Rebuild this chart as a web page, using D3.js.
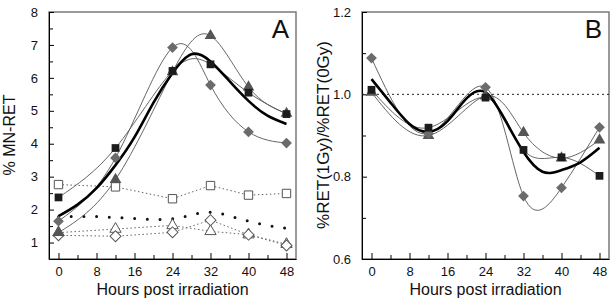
<!DOCTYPE html>
<html>
<head>
<meta charset="utf-8">
<script src="https://cdn.jsdelivr.net/npm/d3@7"></script>
<style>
  body { margin: 0; background: #fff; }
  text { font-family: "Liberation Sans", Arial, sans-serif; fill: #111; }
</style>
</head>
<body>
<script>
// sampling times
const hours = [0, 12, 24, 32, 40, 48]
const fitHours = [0, 4, 8, 12, 16, 20, 24, 28, 32, 36, 40, 44, 48]

// panel A : % MN-RET, 1 Gy (filled) and 0 Gy (open)
const aSquares = [2.37, 3.87, 6.21, 6.41, 5.55, 4.90]
const aTriangles = [1.30, 2.91, 6.18, 7.28, 5.72, 4.92]
const aDiamonds = [1.65, 3.57, 6.92, 5.78, 4.36, 4.02]
const aMeanFit = [1.80, 2.15, 2.65, 3.35, 4.20, 5.25, 6.15, 6.72, 6.50, 5.90, 5.30, 4.85, 4.60]
const aOpenSquares = [2.76, 2.69, 2.33, 2.73, 2.44, 2.49]
const aOpenTriangles = [1.30, 1.41, 1.52, 1.34, 1.24, 0.95]
const aOpenDiamonds = [1.22, 1.19, 1.31, 1.68, 1.24, 0.91]
const aControlFit = [1.78, 1.79, 1.79, 1.76, 1.73, 1.70, 1.72, 1.84, 1.92, 1.81, 1.65, 1.52, 1.43]

// panel B : ratio 1 Gy / 0 Gy
const bSquares = [1.011, 0.919, 0.992, 0.865, 0.847, 0.802]
const bTriangles = [1.005, 0.900, 0.996, 0.907, 0.845, 0.889]
const bDiamonds = [1.088, 0.905, 1.017, 0.753, 0.773, 0.920]
const bMeanFit = [1.037, 0.980, 0.928, 0.909, 0.935, 0.990, 1.005, 0.940, 0.860, 0.812, 0.816, 0.835, 0.870]

const xTicks = [0, 8, 16, 24, 32, 40, 48]
const xMinor = [4, 12, 20, 28, 36, 44]
const aYTicks = [1, 2, 3, 4, 5, 6, 7, 8]
const aYMinor = [1.5, 2.5, 3.5, 4.5, 5.5, 6.5, 7.5]
const bYTicks = [0.6, 0.8, 1.0, 1.2]
const bYMinor = [0.7, 0.9, 1.1]

let svg = d3.select("body").append("svg")
    .attr("width", 612)
    .attr("height", 301)

let zip = (xs, ys) => xs.map((x, i) => [x, ys[i]])

function drawPanel(p) {
    let x = d3.scaleLinear().domain([-2, 50]).range([p.left, p.right])
    let y = d3.scaleLinear().domain(p.yDomain).range([259, 12])
    let g = svg.append("g")

    // frame (top/right in grey)
    g.append("rect")
        .attr("x", p.left).attr("y", 12)
        .attr("width", p.right - p.left).attr("height", 247)
        .attr("fill", "none").attr("stroke", "#7a7a7a").attr("stroke-width", 1.5)

    // x axis
    let xa = g.append("g").attr("transform", "translate(0,259)")
        .call(d3.axisBottom(x).tickValues(xTicks).tickSizeInner(-6).tickSizeOuter(0).tickPadding(8))
    xa.selectAll("text").style("font-size", "13px")
    g.append("g").attr("transform", "translate(0,259)")
        .call(d3.axisBottom(x).tickValues(xMinor).tickSize(-4).tickFormat(""))
        .select(".domain").remove()

    // y axis
    let ya = g.append("g").attr("transform", `translate(${p.left},0)`)
        .call(d3.axisLeft(y).tickValues(p.yTicks).tickSizeInner(-5).tickSizeOuter(0).tickPadding(11).tickFormat(p.fmt))
    ya.selectAll("text").style("font-size", "13px")
    g.append("g").attr("transform", `translate(${p.left},0)`)
        .call(d3.axisLeft(y).tickValues(p.yMinor).tickSize(-4).tickFormat(""))
        .select(".domain").remove()
    g.selectAll(".domain").attr("stroke", "#000")

    let smooth = d3.line().x(d => x(d[0])).y(d => y(d[1])).curve(d3.curveNatural)
    let straight = d3.line().x(d => x(d[0])).y(d => y(d[1]))

    if (p.refLine) {
        g.append("line")
            .attr("x1", p.left).attr("x2", p.right)
            .attr("y1", y(p.refLine)).attr("y2", y(p.refLine))
            .attr("stroke", "#222").attr("stroke-dasharray", "2,3")
    }

    // control series (dotted, open markers)
    ;(p.open || []).forEach(s => {
        g.append("path").attr("d", straight(zip(hours, s.values)))
            .attr("fill", "none").attr("stroke", "#666").attr("stroke-width", 1)
            .attr("stroke-dasharray", "1.5,2.5")
    })
    if (p.controlFit) {
        g.append("path").attr("d", smooth(zip(fitHours, p.controlFit)))
            .attr("fill", "none").attr("stroke", "#111").attr("stroke-width", 3)
            .attr("stroke-linecap", "round").attr("stroke-dasharray", "0,12.7")
    }

    // irradiated series (thin smooth curves)
    p.filled.forEach(s => {
        g.append("path").attr("d", smooth(zip(hours, s.values)))
            .attr("fill", "none").attr("stroke", "#555").attr("stroke-width", 0.9)
    })
    g.append("path").attr("d", smooth(zip(fitHours, p.meanFit)))
        .attr("fill", "none").attr("stroke", "#000").attr("stroke-width", 2.6)

    // markers
    ;(p.open || []).forEach(s => {
        g.selectAll(null).data(zip(hours, s.values)).enter().append("path")
            .attr("d", d3.symbol().type(s.shape == "diamond" ? d3.symbolSquare : s.shape == "triangle" ? d3.symbolTriangle : d3.symbolSquare).size(s.size))
            .attr("transform", d => `translate(${x(d[0])},${y(d[1])})` + (s.shape == "diamond" ? " rotate(45)" : ""))
            .attr("fill", "#fff").attr("stroke", "#555").attr("stroke-width", 1)
    })
    p.filled.forEach(s => {
        g.selectAll(null).data(zip(hours, s.values)).enter().append("path")
            .attr("d", d3.symbol().type(s.shape == "triangle" ? d3.symbolTriangle : d3.symbolSquare).size(s.size))
            .attr("transform", d => `translate(${x(d[0])},${y(d[1])})` + (s.shape == "diamond" ? " rotate(45)" : ""))
            .attr("fill", s.color)
    })

    // labels
    g.append("text").text(p.letter)
        .attr("x", p.right - 7).attr("y", 38)
        .attr("text-anchor", "end").style("font-size", "26px")
    g.append("text").text("Hours post irradiation")
        .attr("x", (p.left + p.right) / 2).attr("y", 295)
        .attr("text-anchor", "middle").style("font-size", "16px")
    g.append("text").text(p.yTitle)
        .attr("transform", `translate(${p.yTitleX},135) rotate(-90)`)
        .attr("text-anchor", "middle").style("font-size", p.yTitleSize)
}

drawPanel({
    left: 49, right: 296, yDomain: [0.5, 8], yTicks: aYTicks, yMinor: aYMinor,
    fmt: d3.format("d"), letter: "A", yTitle: "% MN-RET", yTitleX: 15, yTitleSize: "16px",
    open: [
        { values: aOpenSquares, shape: "square", size: 70 },
        { values: aOpenTriangles, shape: "triangle", size: 55 },
        { values: aOpenDiamonds, shape: "diamond", size: 60 }
    ],
    controlFit: aControlFit,
    filled: [
        { values: aTriangles, shape: "triangle", color: "#555", size: 60 },
        { values: aDiamonds, shape: "diamond", color: "#6b6b6b", size: 58 },
        { values: aSquares, shape: "square", color: "#1c1c1c", size: 60 }
    ],
    meanFit: aMeanFit
})

drawPanel({
    left: 362, right: 609, yDomain: [0.6, 1.2], yTicks: bYTicks, yMinor: bYMinor,
    fmt: d3.format(".1f"), letter: "B", yTitle: "%RET(1Gy)/%RET(0Gy)", yTitleX: 329, yTitleSize: "17px",
    refLine: 1.0,
    filled: [
        { values: bTriangles, shape: "triangle", color: "#555", size: 60 },
        { values: bDiamonds, shape: "diamond", color: "#6b6b6b", size: 58 },
        { values: bSquares, shape: "square", color: "#1c1c1c", size: 60 }
    ],
    meanFit: bMeanFit
})
</script>
</body>
</html>
